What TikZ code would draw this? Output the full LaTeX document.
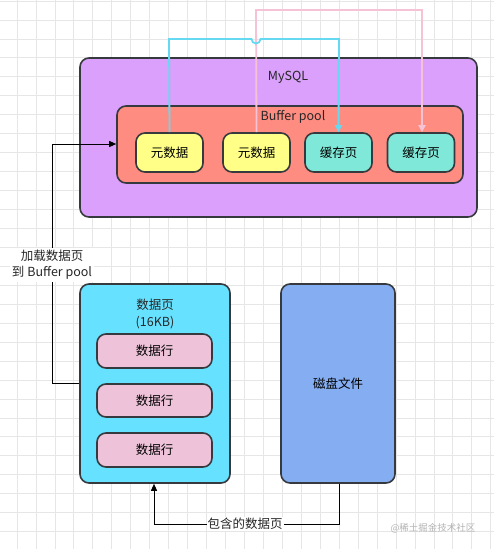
\documentclass[tikz,border=0pt]{standalone}
\usepackage{fontspec}
\setmainfont{Noto Sans CJK SC}
\usetikzlibrary{arrows.meta}
\definecolor{gridc}{HTML}{E6E6E6}
\definecolor{edge}{HTML}{36393D}
\definecolor{mysqlc}{HTML}{DAA0FC}
\definecolor{poolc}{HTML}{FF8C80}
\definecolor{yel}{HTML}{FFFF88}
\definecolor{teal}{HTML}{80E8D8}
\definecolor{pagec}{HTML}{66E1FF}
\definecolor{rowc}{HTML}{EEC3DA}
\definecolor{diskc}{HTML}{85AEF2}
\definecolor{cyanl}{HTML}{66D9F2}
\definecolor{pinkl}{HTML}{F5C2D6}
\tikzset{
  box/.style={draw=edge, line width=1.6pt, rounded corners=9pt, inner sep=0pt, font=\fontsize{12.5}{15}\selectfont},
  lbl/.style={font=\fontsize{12.5}{15}\selectfont, text=black!85, inner sep=1pt},
  blk/.style={draw=black, line width=0.9pt, -{Triangle[length=7pt,width=6pt]}},
}
\begin{document}
\begin{tikzpicture}[x=1pt,y=-1pt]
\useasboundingbox (0,0) rectangle (494,549);
% grid
\foreach \i in {0,...,26} {\draw[gridc, line width=0.8pt] ({17+18.95*\i},0) -- ({17+18.95*\i},549);}
\foreach \j in {0,...,28} {\draw[gridc, line width=0.8pt] (0,{1+18.95*\j}) -- (494,{1+18.95*\j});}

% MySQL container
\node[box, fill=mysqlc, minimum width=397pt, minimum height=159pt] (mysql) at (278.5,137.5) {};
\node[lbl] (mysqlt) at (288,77) {MySQL};
% Buffer pool
\node[box, fill=poolc, minimum width=346pt, minimum height=77pt] (pool) at (290,144.5) {};
\node[lbl] (poolt) at (293,117) {Buffer pool};
% inner boxes
\node[box, fill=yel, minimum width=67pt, minimum height=39pt] (m1) at (169.5,152.5) {元数据};
\node[box, fill=yel, minimum width=67pt, minimum height=39pt] (m2) at (256.5,152.5) {元数据};
\node[box, fill=teal, minimum width=67pt, minimum height=39pt] (c1) at (338.5,152.5) {缓存页};
\node[box, fill=teal, minimum width=67pt, minimum height=39pt] (c2) at (421,152.5) {缓存页};

% data page
\node[box, fill=pagec, minimum width=150pt, minimum height=199pt] (page) at (155,383.5) {};
\node[lbl, align=center] (paget) at (155,313.5) {数据页\\[2pt](16KB)};
\node[box, fill=rowc, minimum width=115pt, minimum height=34pt] (r1) at (154.5,351) {数据行};
\node[box, fill=rowc, minimum width=115pt, minimum height=33pt] (r2) at (154.5,400.5) {数据行};
\node[box, fill=rowc, minimum width=115pt, minimum height=34pt] (r3) at (154.5,450) {数据行};
% disk
\node[box, fill=diskc, minimum width=114pt, minimum height=199pt] (disk) at (338,383.5) {磁盘文件};

% coloured connectors
\coordinate (pk1) at (256,10);
\coordinate (pk2) at (422,10);
\draw[pinkl, line width=1.8pt, -{Triangle[length=7pt,width=7pt]}] (m2.north) -- (pk1) -- (pk2) -- (pk2 |- c2.north);
\coordinate (cy1) at (169,39);
\coordinate (cy2) at (339,39);
\draw[cyanl, line width=1.8pt, -{Triangle[length=7pt,width=7pt]}] (m1.north) -- (cy1) -- (251.5,39) arc[start angle=180, end angle=0, radius=4.5] -- (cy2) -- (c1.north);

% load arrow
\coordinate (la1) at (52,383);
\coordinate (la2) at (52,144);
\draw[blk] (page.west |- la1) -- (la1) -- (la2) -- (pool.west |- la2);
\node[lbl, fill=white, align=center, inner sep=2pt] (loadt) at (52,265) {加载数据页\\[1pt]到 Buffer pool};

% contains arrow
\coordinate (ca1) at (339,524);
\coordinate (ca2) at (154,524);
\draw[blk] (disk.south -| ca1) -- (ca1) -- (ca2) -- (page.south -| ca2);
\node[lbl, fill=white, inner sep=1pt] (cont) at (245,524) {包含的数据页};

% watermark
\node[font=\fontsize{9.5}{11}\selectfont, text=black!30] (wm) at (433,528) {@稀土掘金技术社区};
\end{tikzpicture}
\end{document}
